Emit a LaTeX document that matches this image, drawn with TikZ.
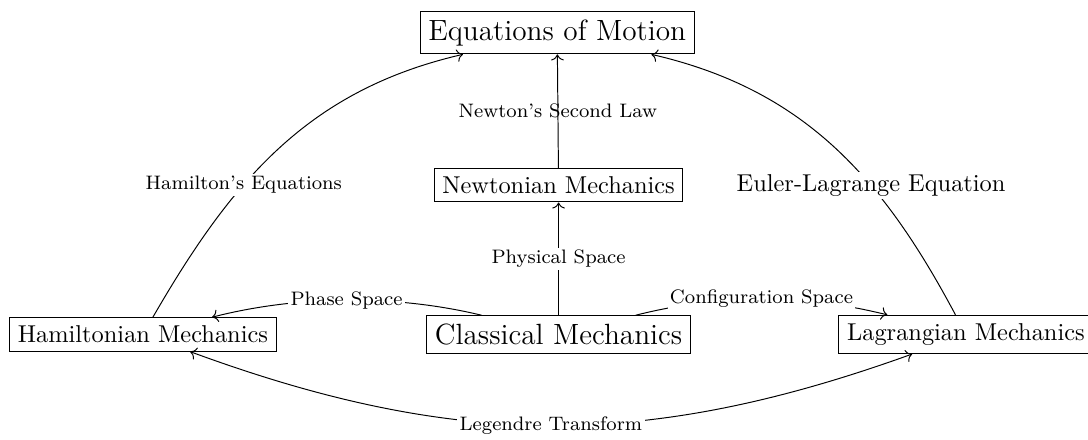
\documentclass[tikz,border=0pt]{standalone}
\usepackage{tikz}
\usetikzlibrary{arrows.meta, positioning}
\tikzset{
  mechbox/.style={rectangle, draw=black, font=\normalsize},
  link/.style={->, black},
  lbl/.style={fill=white, inner sep=1pt, font=\footnotesize},
  openlbl/.style={inner sep=1pt, font=\footnotesize},
}
\begin{document}
\begin{tikzpicture}
        \useasboundingbox (0,0) rectangle (15.68,6.33);
        % frameworks
        \node[mechbox, font=\large] (eom) at (8.03, 5.86) {Equations of Motion};
        \node[mechbox] (newton) at (8.05, 3.66) {Newtonian Mechanics};
        \node[mechbox, font=\large] (classical) at (8.05, 1.51) {Classical Mechanics};
        \node[mechbox] (hamilton) at (2.06, 1.51) {Hamiltonian Mechanics};
        \node[mechbox] (lagrange) at (13.92, 1.51) {Lagrangian Mechanics};

        % straight links
        \draw[link] (classical) -- node[lbl] {Physical Space} (newton);
        \draw[link] (newton) -- node[openlbl] {Newton’s Second Law} (eom);

        % curved links
        \draw[link] (classical) to[bend right=14, looseness=0.84] node[lbl] {Phase Space} (hamilton);
        \draw[link] (classical) to[bend left=14, looseness=0.9] node[lbl] {Configuration Space} (lagrange);
        \draw[link, <->] (hamilton) to[bend right=20] node[lbl] {Legendre Transform} (lagrange);
        \draw[link] (hamilton) to[out=60, in=193] node[lbl, pos=0.37] {Hamilton’s Equations} (eom);
        \draw[link] (lagrange) to[out=118, in=-13] node[lbl, pos=0.36, font=\normalsize] {Euler-Lagrange Equation} (eom);
      \end{tikzpicture}
\end{document}
